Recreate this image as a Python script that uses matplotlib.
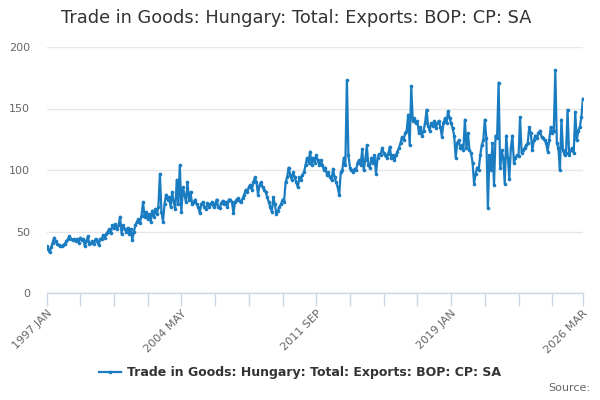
import matplotlib
matplotlib.use("Agg")
import matplotlib.pyplot as plt
import numpy as np

title = "Trade in Goods: Hungary: Total: Exports: BOP: CP: SA"
series_name = "Trade in Goods: Hungary: Total: Exports: BOP: CP: SA"

# Monthly values, 1997 JAN .. 2026 MAR
v1997 = [38, 36, 33, 37, 41, 45, 42, 40, 39, 38, 38, 39]
v1998 = [40, 42, 44, 46, 44, 43, 44, 42, 44, 41, 45, 43]
v1999 = [44, 38, 42, 46, 40, 41, 42, 40, 44, 42, 39, 44]
v2000 = [44, 47, 45, 48, 50, 52, 49, 55, 53, 56, 52, 55]
v2001 = [62, 48, 55, 52, 50, 53, 48, 52, 43, 50, 55, 58]
v2002 = [60, 57, 63, 74, 62, 66, 60, 64, 58, 67, 62, 68]
v2003 = [64, 70, 97, 66, 58, 72, 80, 76, 78, 70, 82, 74]
v2004 = [68, 92, 72, 104, 66, 86, 80, 74, 90, 76, 82, 72]
v2005 = [74, 76, 72, 70, 65, 72, 74, 70, 68, 73, 70, 72]
v2006 = [74, 70, 72, 76, 70, 69, 73, 75, 72, 74, 70, 76]
v2007 = [76, 74, 65, 74, 76, 77, 75, 74, 77, 80, 84, 82]
v2008 = [86, 88, 84, 90, 94, 90, 80, 88, 90, 86, 84, 82]
v2009 = [78, 74, 70, 66, 78, 72, 64, 67, 70, 72, 76, 74]
v2010 = [90, 94, 102, 96, 92, 98, 94, 90, 86, 94, 92, 96]
v2011 = [98, 104, 110, 106, 115, 104, 110, 106, 112, 108, 104, 108]
v2012 = [104, 100, 102, 96, 98, 94, 92, 101, 94, 90, 86, 80]
v2013 = [98, 100, 110, 104, 173, 112, 102, 100, 98, 101, 100, 106]
v2014 = [108, 104, 117, 100, 108, 120, 104, 102, 110, 106, 112, 97]
v2015 = [110, 113, 112, 118, 114, 112, 110, 113, 119, 110, 112, 108]
v2016 = [112, 115, 118, 122, 127, 124, 130, 132, 145, 120, 168, 140]
v2017 = [142, 138, 140, 130, 135, 128, 132, 138, 149, 136, 132, 138]
v2018 = [136, 140, 134, 138, 140, 135, 127, 138, 142, 138, 148, 142]
v2019 = [138, 134, 128, 110, 122, 124, 118, 120, 116, 141, 118, 130]
v2020 = [116, 114, 106, 89, 97, 102, 100, 112, 120, 124, 141, 126]
v2021 = [69, 112, 100, 122, 88, 128, 126, 171, 102, 116, 110, 89]
v2022 = [128, 110, 93, 118, 128, 106, 110, 112, 111, 143, 114, 116]
v2023 = [118, 120, 122, 135, 130, 116, 124, 128, 126, 130, 132, 127]
v2024 = [126, 124, 122, 115, 124, 135, 130, 132, 181, 122, 118, 100]
v2025 = [141, 116, 112, 114, 149, 112, 116, 118, 114, 147, 124, 132]
v2026 = [135, 143, 158]

values = (v1997 + v1998 + v1999 + v2000 + v2001 + v2002 + v2003 + v2004 + v2005 +
          v2006 + v2007 + v2008 + v2009 + v2010 + v2011 + v2012 + v2013 + v2014 +
          v2015 + v2016 + v2017 + v2018 + v2019 + v2020 + v2021 + v2022 + v2023 +
          v2024 + v2025 + v2026)

tick_positions = [0, 22, 44, 66, 88, 110, 132, 154, 176, 198, 220, 242, 264, 286, 308, 330, 350]
tick_labels = ["1997 JAN", "", "", "", "2004 MAY", "", "", "", "2011 SEP", "", "", "",
               "2019 JAN", "", "", "", "2026 MAR"]
y_ticks = [0, 50, 100, 150, 200]

line_color = "#1a7cc1"
text_gray = "#666666"

fig = plt.figure(figsize=(6, 4), dpi=100)
ax = fig.add_axes([0.0775, 0.2675, 0.894, 0.615])

x = np.arange(len(values))
ax.plot(x, values, color=line_color, lw=1.6, marker="o", ms=2.6,
        markeredgewidth=0, label=series_name, zorder=3)

ax.set_xlim(0, 350)
ax.set_ylim(0, 200)
ax.set_yticks(y_ticks)
ax.set_yticklabels([str(t) for t in y_ticks], color=text_gray, fontsize=8)
ax.yaxis.grid(True, color="#e6e6e6", lw=1)
ax.set_axisbelow(True)
ax.tick_params(axis="y", length=0, pad=12)

ax.set_xticks(tick_positions)
ax.set_xticklabels(tick_labels, rotation=45, ha="right", rotation_mode="anchor",
                   color=text_gray, fontsize=8)
ax.tick_params(axis="x", length=9, width=1, color="#ccd6eb", pad=2, direction="out")

for s in ["top", "right", "left"]:
    ax.spines[s].set_visible(False)
ax.spines["bottom"].set_color("#ccd6eb")
ax.spines["bottom"].set_linewidth(1)

fig.text(0.494, 0.955, title, ha="center", va="center", fontsize=12.8, color="#333333")

leg = fig.legend(loc="center", bbox_to_anchor=(0.5, 0.068), frameon=False,
                 fontsize=9, handlelength=1.8, handletextpad=0.5)
for t in leg.get_texts():
    t.set_fontweight("bold")
    t.set_color("#333333")

fig.text(0.983, 0.03, "Source:", ha="right", va="center", fontsize=8, color=text_gray)

fig.savefig("out.png", dpi=100)
